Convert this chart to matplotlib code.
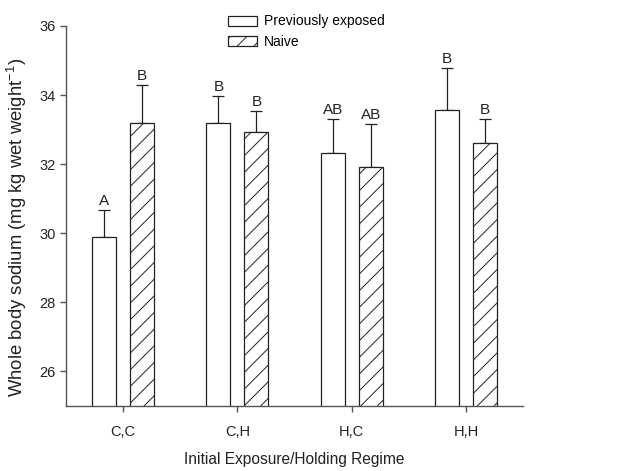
import matplotlib
matplotlib.use("Agg")
import matplotlib.pyplot as plt
import numpy as np
from matplotlib.patches import Patch

plt.rcParams['font.family'] = ['Liberation Sans', 'DejaVu Sans']
plt.rcParams['hatch.linewidth'] = 0.7

categories = ["C,C", "C,H", "H,C", "H,H"]
prev_exposed = [29.9, 33.18, 32.31, 33.58]
prev_err = [0.77, 0.78, 0.99, 1.19]
naive = [33.18, 32.92, 31.92, 32.60]
naive_err = [1.12, 0.61, 1.25, 0.71]
prev_letters = ["A", "B", "AB", "B"]
naive_letters = ["B", "B", "AB", "B"]
yticks = [26, 28, 30, 32, 34, 36]

fig = plt.figure(figsize=(6.19, 4.71), dpi=100)
ax = fig.add_axes([0.1066, 0.138, 0.7384, 0.807])

x = np.arange(len(categories))
w = 0.21
off = 0.166
axcol = '#555555'
ink = '#222222'

ax.bar(x - off, prev_exposed, w, color='white', edgecolor=ink, linewidth=0.9, zorder=2)
ax.bar(x + off, naive, w, color='white', edgecolor=ink, linewidth=0.9, hatch='//', zorder=2)
ax.errorbar(x - off, prev_exposed, yerr=[np.zeros(4), prev_err], fmt='none', ecolor=ink,
            elinewidth=0.9, capsize=4, capthick=0.9, zorder=1)
ax.errorbar(x + off, naive, yerr=[np.zeros(4), naive_err], fmt='none', ecolor=ink,
            elinewidth=0.9, capsize=4, capthick=0.9, zorder=1)

for xi, v, e, t in zip(x - off, prev_exposed, prev_err, prev_letters):
    ax.text(xi, v + e + 0.06, t, ha='center', va='bottom', fontsize=11, color=ink)
for xi, v, e, t in zip(x + off, naive, naive_err, naive_letters):
    ax.text(xi, v + e + 0.06, t, ha='center', va='bottom', fontsize=11, color=ink)

ax.set_xlim(-0.5, 3.5)
ax.set_ylim(25, 36)
ax.set_xticks(x)
ax.set_xticklabels(categories, fontsize=10.5)
ax.set_yticks(yticks)
ax.set_yticklabels([str(t) for t in yticks], fontsize=10.5)
for s in ['top', 'right']:
    ax.spines[s].set_visible(False)
for s in ['left', 'bottom']:
    ax.spines[s].set_color(axcol)
    ax.spines[s].set_linewidth(1.0)
ax.tick_params(axis='both', colors=axcol, labelcolor=ink, length=4, width=1.0, direction='out')
ax.tick_params(axis='x', pad=10)

ax.set_xlabel("Initial Exposure/Holding Regime", fontsize=11.2, color=ink, labelpad=9)
ax.set_ylabel("Whole body sodium (mg kg wet weight$^{\\mathregular{-1}}$)", fontsize=13.3, color=ink)
ax.yaxis.set_label_coords(-0.082, 0.47)

handles = [Patch(facecolor='white', edgecolor=ink, linewidth=0.9, label='Previously exposed'),
           Patch(facecolor='white', edgecolor=ink, linewidth=0.9, hatch='//', label='Naive')]
fig.legend(handles=handles, loc='upper left', bbox_to_anchor=(0.352, 0.99), frameon=False,
           fontsize=10, handlelength=2.1, handleheight=0.75, handletextpad=0.5, labelspacing=0.45,
           borderpad=0.2)

fig.savefig("out.png", dpi=100)
